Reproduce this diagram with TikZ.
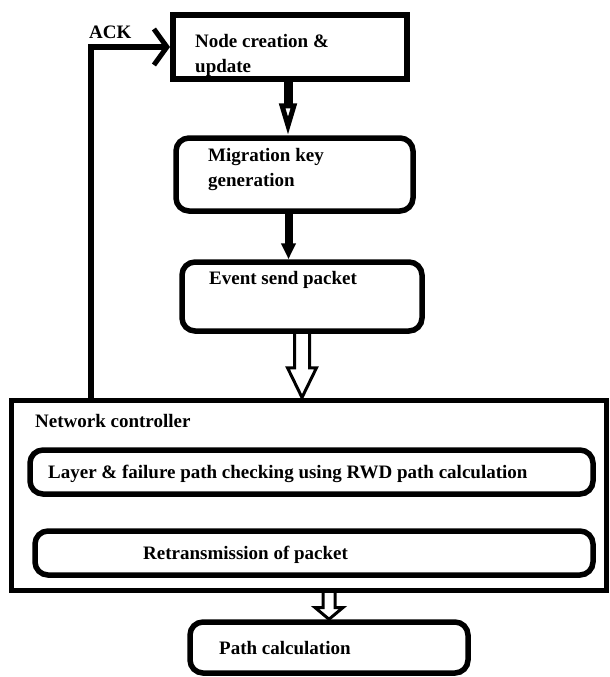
\documentclass[tikz,border=0pt]{standalone}
\usepackage{fontspec}
\setmainfont{Liberation Serif}
\usetikzlibrary{arrows.meta,calc}
\begin{document}
\begin{tikzpicture}[x=1pt,y=-1pt,
  lbl/.style={anchor=west, inner sep=0pt, font=\bfseries\fontsize{19}{25}\selectfont, align=left},
  sqbox/.style={draw, line width=6pt, inner sep=0pt},
  rbox/.style={draw, line width=5.5pt, rounded corners=13pt, inner sep=0pt},
  hollow/.style={draw, line width=3pt, line join=miter},
]
\useasboundingbox (0,0) rectangle (610,677);

% boxes
\node[sqbox, minimum width=234pt, minimum height=64pt] (top) at (290,47) {};
\node[rbox, minimum width=237pt, minimum height=73pt] (mig) at (294.5,174.5) {};
\node[rbox, minimum width=240pt, minimum height=69pt] (ev) at (302,296.5) {};
\node[draw, line width=5pt, inner sep=0pt, minimum width=595pt, minimum height=190pt] (ctrl) at (308.5,495) {};
\node[rbox, minimum width=563pt, minimum height=44pt] (layer) at (311.5,472) {};
\node[rbox, minimum width=558pt, minimum height=44pt] (retr) at (314,553) {};
\node[rbox, minimum width=278pt, minimum height=51pt] (path) at (329,647.5) {};

% texts
\node[lbl] (ackt) at (89,32) {ACK};
\node[lbl] (t1) at (195,55.5) {Node creation \&\\update};
\node[lbl] (t2) at (208,169.5) {Migration key\\generation};
\node[lbl] (t3) at (209,280) {Event send packet};
\node[lbl] (t4) at (35,421) {Network controller};
\node[lbl] (t5) at (48,474) {Layer \& failure path checking using RWD path calculation};
\node[lbl] (t6) at (143,555) {Retransmission of packet};
\node[lbl] (t7) at (219,648) {Path calculation};

% connectors
\coordinate (a1s) at ($(top.south)+(-2,0)$);
\draw[line width=9pt, -{Triangle[open,length=32pt,width=17pt,line width=5pt]}] (a1s) -- (a1s |- mig.north);

\coordinate (a2s) at ($(mig.south)+(-6,0)$);
\draw[line width=8pt, -{Triangle[length=16pt,width=14pt]}] (a2s) -- (a2s |- ev.north);

\draw[hollow] ($(ev.south)+(-7.5,0)$) -- ++(0,34) -- ++(-7,0) -- (ev.south |- ctrl.north)
  -- ($(ev.south)+(14.5,34)$) -- ++(-7,0) -- ($(ev.south)+(7.5,0)$);

\coordinate (a4s) at (path.north |- ctrl.south);
\draw[hollow] ($(a4s)+(-6,0)$) -- ++(0,15) -- ++(-8,0) -- (path.north)
  -- ($(a4s)+(14,15)$) -- ++(-8,0) -- ($(a4s)+(6,0)$);

\coordinate (ackfoot) at (91,400);
\draw[line width=6pt, -{Straight Barb[length=13pt,width=36pt,line width=5pt]}] (ackfoot) |- (top.west);
\end{tikzpicture}
\end{document}
